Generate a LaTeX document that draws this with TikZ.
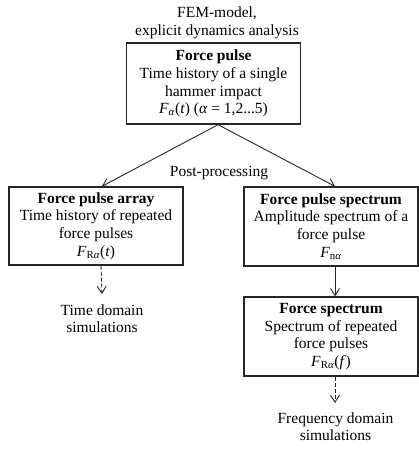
\documentclass[tikz,border=0pt]{standalone}
\usepackage{fontspec}
\setmainfont{Liberation Serif}
\usetikzlibrary{arrows.meta,calc}
\begin{document}
\begin{tikzpicture}[x=1pt,y=-1pt,
 box/.style={draw=black!85,line width=1.4pt,minimum width=174pt,minimum height=79pt,align=center,inner sep=0pt,font=\fontsize{15.5}{17.6}\selectfont},
 lbl/.style={align=center,inner sep=0pt,font=\fontsize{15.5}{17.6}\selectfont},
 arr/.style={draw=black!85,line width=0.9pt,-{Straight Barb[length=7pt,width=9pt]}},
 darr/.style={arr,dash pattern=on 4pt off 2pt}]
\useasboundingbox (0,0) rectangle (419,449);
\node[lbl] (fem) at (217,23) {FEM-model,\\explicit dynamics analysis};
\node[box,minimum height=81pt] (pulse) at (213.5,83.5) {\textbf{Force pulse}\\Time history of a single\\hammer impact\\\textit{F}\textsubscript{\textit{α}}(\textit{t}) (\textit{α} = 1,2...5)};
\node[box,minimum height=78pt] (array) at (96,226) {\textbf{Force pulse array}\\Time history of repeated\\force pulses\\\textit{F}\textsubscript{R\textit{α}}(\textit{t})};
\node[box,minimum height=79pt] (pspec) at (331,226.5) {\textbf{Force pulse spectrum}\\Amplitude spectrum of a\\force pulse\\\textit{F}\textsubscript{n\textit{α}}};
\node[box,minimum height=79pt] (fspec) at (331,336.5) {\textbf{Force spectrum}\\Spectrum of repeated\\force pulses\\\textit{F}\textsubscript{R\textit{α}}(\textit{f})};
\node[lbl] (pp) at (219,173) {Post-processing};
\node[lbl] (tds) at (102,318.5) {Time domain\\simulations};
\node[lbl] (fds) at (335.5,426.5) {Frequency domain\\simulations};
\draw[arr] ([xshift=4.5pt]pulse.south) -- ([xshift=6pt]array.north);
\draw[arr] ([xshift=4.5pt]pulse.south) -- ([xshift=4pt]pspec.north);
\draw[darr] ([xshift=5pt]array.south) -- ([yshift=10pt]tds.north);
\draw[arr] ([xshift=4pt]pspec.south) -- ([xshift=4pt]fspec.north);
\draw[darr] ([xshift=4pt]fspec.south) -- ([yshift=9pt,xshift=-0.5pt]fds.north);
\end{tikzpicture}
\end{document}
